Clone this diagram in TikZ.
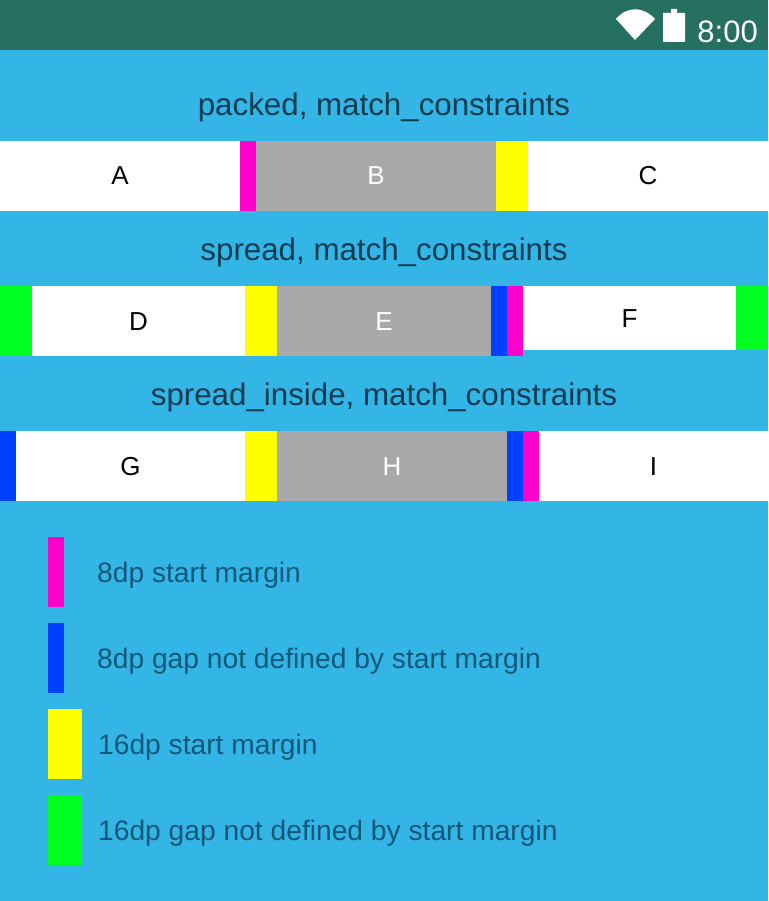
\documentclass[tikz,border=0pt]{standalone}
\usepackage{fontspec}
\setmainfont{Liberation Sans}
\usetikzlibrary{chains, positioning}
\definecolor{skyblue}{RGB}{51,181,229}
\definecolor{statusgreen}{RGB}{38,112,96}
\definecolor{titleink}{RGB}{12,60,82}
\definecolor{legendink}{RGB}{18,88,122}
\definecolor{mgenta}{RGB}{255,0,204}
\definecolor{gapblue}{RGB}{0,64,255}
\definecolor{gapgreen}{RGB}{0,255,32}
\definecolor{gapyellow}{RGB}{255,255,0}
\definecolor{midgrey}{RGB}{169,169,169}

\begin{document}
\begin{tikzpicture}[x=1pt, y=-1pt, node distance = 0pt,
bar/.style = {rectangle, inner sep=0pt, outer sep=0pt, minimum height=70pt, minimum width=#1, text height=18pt, text depth=0pt, font=\fontsize{26}{30}\selectfont},
wbar/.style = {bar=#1, fill=white, text=black, on chain},
gbar/.style = {bar=#1, fill=midgrey, text=white, on chain},
mbar/.style = {bar=16pt, fill=mgenta, on chain},
bbar/.style = {bar=16pt, fill=gapblue, on chain},
ybar/.style = {bar=32pt, fill=gapyellow, on chain},
lbar/.style = {bar=32pt, fill=gapgreen, on chain},
title/.style = {inner sep=0pt, text=titleink, font=\fontsize{31.3}{34}\selectfont},
legend/.style = {inner sep=0pt, text=legendink, font=\fontsize{28.2}{32}\selectfont}]
\fill[skyblue] (0,0) rectangle (768,901);
\fill[statusgreen] (0,0) rectangle (768,50);
% status bar
\fill[white] (635,40) -- (616,19) .. controls (627,6) and (643,6) .. (655,19) -- cycle;
\fill[white] (663,13) -- (671,13) -- (671,9) -- (677,9) -- (677,13) -- (685,13) -- (685,42) -- (663,42) -- cycle;
\node[anchor=base east, inner sep=0pt, text=white, font=\fontsize{31}{32}\selectfont] (clock) at (758,43) {8:00};
% first row
\node[title] (titleA) at (384,107) {packed, match\_constraints};
\begin{scope}[start chain=going right]
\node[wbar=240pt, anchor=north west] (A) at (0,141) {A};
\node[mbar] (A-m) {};
\node[gbar=240pt] (B) {B};
\node[ybar] (B-y) {};
\node[wbar=240pt] (C) {C};
\end{scope}
% second row
\node[title] (titleB) at (384,252) {spread, match\_constraints};
\begin{scope}[start chain=going right]
\node[lbar, anchor=north west] (D-l) at (0,286) {};
\node[wbar=213pt] (D) {D};
\node[ybar] (D-y) {};
\node[gbar=214pt] (E) {E};
\node[bbar] (E-b) {};
\node[mbar] (E-m) {};
\node[wbar=213pt, minimum height=64pt, yshift=3pt] (F) {F};
\node[lbar, minimum height=64pt] (F-l) {};
\end{scope}
% third row
\node[title] (titleC) at (384,397) {spread\_inside, match\_constraints};
\begin{scope}[start chain=going right]
\node[bbar, anchor=north west] (G-b) at (0,431) {};
\node[wbar=229pt] (G) {G};
\node[ybar] (G-y) {};
\node[gbar=230pt] (H) {H};
\node[bbar] (H-b) {};
\node[mbar] (H-m) {};
\node[wbar=229pt] (I) {I};
\end{scope}
% legend
\node[bar=16pt, fill=mgenta, anchor=north west] (key1) at (48,537) {};
\node[bar=16pt, fill=gapblue, anchor=north west] (key2) at (48,623) {};
\node[bar=34pt, fill=gapyellow, anchor=north west] (key3) at (48,709) {};
\node[bar=34pt, fill=gapgreen, anchor=north west] (key4) at (48,795) {};
\node[legend, right=33pt of key1, yshift=-3.5pt] {8dp start margin};
\node[legend, right=33pt of key2, yshift=-3.5pt] {8dp gap not defined by start margin};
\node[legend, right=16pt of key3, yshift=-3.5pt] {16dp start margin};
\node[legend, right=16pt of key4, yshift=-3.5pt] {16dp gap not defined by start margin};
\end{tikzpicture}
\end{document}
